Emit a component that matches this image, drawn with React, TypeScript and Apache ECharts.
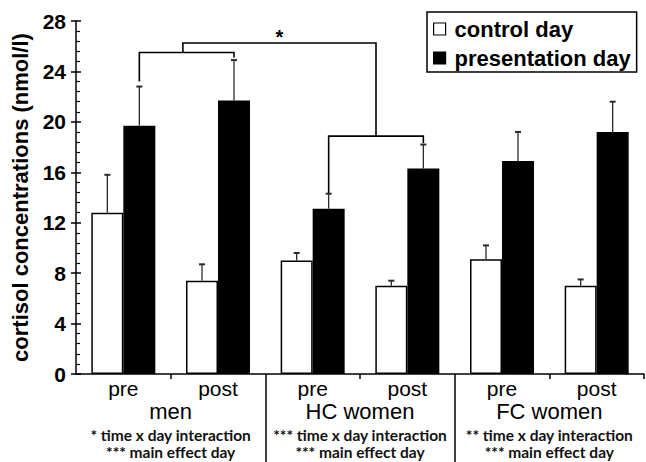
import React, { useEffect, useRef } from "react";
import * as echarts from "echarts";

// ---- data ----
const categories = ["pre", "post", "pre", "post", "pre", "post"];
const groups = ["men", "HC women", "FC women"];
const groupStats1 = ["* time x day interaction", "*** time x day interaction", "** time x day interaction"];
const groupStats2 = ["*** main effect day", "*** main effect day", "*** main effect day"];
const control = [12.8, 7.4, 9.0, 7.0, 9.1, 7.0];
const controlSem = [3.0, 1.3, 0.6, 0.4, 1.1, 0.5];
const presentation = [19.7, 21.7, 13.1, 16.3, 16.9, 19.2];
const presentationSem = [3.1, 3.2, 1.2, 1.9, 2.3, 2.4];
const yTicks = [0, 4, 8, 12, 16, 20, 24, 28];

// significance brackets (category index of the two presentation bars, y levels)
const innerBrackets = [
  { from: 0, to: 1, leftEnd: 23.2, rightEnd: 25.1, level: 25.5, stemFrac: 0.46 },
  { from: 2, to: 3, leftEnd: 14.35, rightEnd: 18.3, level: 18.87, stemFrac: 0.5 },
];
const outerLevel = 26.25;
const starLevel = 26.9;
const starText = "*";

const BAR_W = 32;
const FONT = "Liberation Sans";

export default function App() {
  const ref = useRef<HTMLDivElement>(null);
  useEffect(() => {
    document.body.style.margin = "0";
    const chart = echarts.init(ref.current!, null, { renderer: "svg" });

    const errRender = (offset: number) => (params: any, api: any) => {
      const x = api.value(0);
      const v = api.value(1);
      const top = api.value(2);
      const p0 = api.coord([x, v]);
      const p1 = api.coord([x, top]);
      const cx = p0[0] + offset;
      return {
        type: "group",
        children: [
          { type: "line", shape: { x1: cx, y1: p0[1], x2: cx, y2: p1[1] }, style: { stroke: "#2a2a2a", lineWidth: 1.3 } },
          { type: "line", shape: { x1: cx - 3, y1: p1[1], x2: cx + 3, y2: p1[1] }, style: { stroke: "#2a2a2a", lineWidth: 2 } },
        ],
      };
    };

    const axisLineStyle = { color: "#000", width: 1.5 };

    chart.setOption({
      animation: false,
      grid: { left: 76, top: 21, right: 2, bottom: 88, outerBoundsMode: "none" },
      legend: {
        data: ["control day", "presentation day"],
        orient: "vertical",
        left: 427,
        top: 12,
        itemWidth: 12,
        itemHeight: 12,
        itemGap: 7,
        padding: [6, 6, 3, 6],
        borderColor: "#000",
        borderWidth: 1.5,
        icon: "rect",
        itemStyle: { borderColor: "#000", borderWidth: 1.2 },
        textStyle: { fontFamily: FONT, fontSize: 22, fontWeight: "bold", color: "#000", padding: [0, 0, 0, 4] },
      },
      xAxis: [
        {
          type: "category",
          data: categories,
          position: "bottom",
          axisLine: { show: true, lineStyle: axisLineStyle },
          axisTick: { show: true, length: 5, interval: (i: number) => i % 2 === 1, lineStyle: { color: "#000", width: 1.5 } },
          axisLabel: { interval: 0, margin: 4, fontFamily: FONT, fontSize: 21, color: "#000" },
          splitLine: { show: false },
        },
        {
          type: "value",
          min: 0,
          max: 6,
          position: "bottom",
          axisLine: { show: false },
          axisTick: { show: true, length: 88, customValues: [2, 4], lineStyle: { color: "#000", width: 1.5 } },
          axisLabel: {
            show: true,
            customValues: [1, 3, 5],
            margin: 22,
            formatter: (v: number) => {
              const g = Math.round((v - 1) / 2);
              return `{g|${groups[g]}}\n{s|${groupStats1[g]}}\n{s|${groupStats2[g]}}`;
            },
            rich: {
              g: { fontFamily: FONT, fontSize: 22, color: "#000", lineHeight: 30 },
              s: { fontFamily: "Lato", fontSize: 15.5, fontWeight: "bold", color: "#111", lineHeight: 17 },
            },
          },
          splitLine: { show: false },
        },
      ],
      yAxis: [
        {
          type: "value",
          min: yTicks[0],
          max: yTicks[yTicks.length - 1],
          interval: 4,
          position: "left",
          name: "cortisol concentrations (nmol/l)",
          nameLocation: "middle",
          nameGap: 39,
          nameTextStyle: { fontFamily: FONT, fontSize: 22, fontWeight: "bold", color: "#000" },
          axisLine: { show: true, lineStyle: axisLineStyle },
          axisTick: { show: true, length: 5, lineStyle: { color: "#000", width: 1.5 } },
          axisLabel: { margin: 10, fontFamily: FONT, fontSize: 21, fontWeight: "bold", color: "#000" },
          splitLine: { show: false },
        },
        {
          type: "value",
          min: yTicks[0],
          max: yTicks[yTicks.length - 1],
          interval: 4,
          position: "left",
          axisLine: { show: false },
          axisTick: { show: true, inside: true, length: 5, lineStyle: { color: "#000", width: 1.5 } },
          minorTick: { show: true, splitNumber: 5, length: 4, lineStyle: { color: "#000", width: 1.2 } },
          axisLabel: { show: false },
          splitLine: { show: false },
        },
      ],
      series: [
        {
          name: "control day",
          type: "bar",
          data: control,
          barWidth: BAR_W,
          barGap: "0%",
          itemStyle: { color: "#fff", borderColor: "#000", borderWidth: 1.5 },
        },
        {
          name: "presentation day",
          type: "bar",
          data: presentation,
          barWidth: BAR_W,
          barGap: "0%",
          itemStyle: { color: "#000", borderColor: "#000", borderWidth: 1.5 },
        },
        {
          name: "control err",
          type: "custom",
          renderItem: errRender(-BAR_W / 2),
          encode: { x: 0, y: [1, 2] },
          data: control.map((v, i) => [i, v, v + controlSem[i]]),
          z: 5,
        },
        {
          name: "presentation err",
          type: "custom",
          renderItem: errRender(BAR_W / 2),
          encode: { x: 0, y: [1, 2] },
          data: presentation.map((v, i) => [i, v, v + presentationSem[i]]),
          z: 5,
        },
      ],
    });

    const P = (i: number, v: number) => {
      const p = chart.convertToPixel({ xAxisIndex: 0, yAxisIndex: 0 }, [i, v]) as number[];
      return [p[0] + BAR_W / 2, p[1]];
    };
    const Y = (v: number) => P(0, v)[1];
    const lineStyle = { stroke: "#000", lineWidth: 1.6, fill: null };
    const stems: number[] = [];
    const elements: any[] = [];
    innerBrackets.forEach((b) => {
      const lx = P(b.from, 0)[0];
      const rx = P(b.to, 0)[0];
      elements.push({
        type: "polyline",
        shape: { points: [[lx, Y(b.leftEnd)], [lx, Y(b.level)], [rx, Y(b.level)], [rx, Y(b.rightEnd)]] },
        style: lineStyle,
      });
      stems.push(lx + (rx - lx) * b.stemFrac);
    });
    elements.push({
      type: "polyline",
      shape: {
        points: [
          [stems[0], Y(innerBrackets[0].level)],
          [stems[0], Y(outerLevel)],
          [stems[1], Y(outerLevel)],
          [stems[1], Y(innerBrackets[1].level)],
        ],
      },
      style: lineStyle,
    });
    elements.push({
      type: "text",
      x: (stems[0] + stems[1]) / 2,
      y: Y(starLevel) + 2,
      style: { text: starText, fontFamily: FONT, fontSize: 20, fontWeight: "bold", fill: "#000", align: "center", verticalAlign: "middle" },
    });
    chart.setOption({ graphic: elements });

    return () => chart.dispose();
  }, []);
  return <div ref={ref} style={{ width: 646, height: 462 }} />;
}
